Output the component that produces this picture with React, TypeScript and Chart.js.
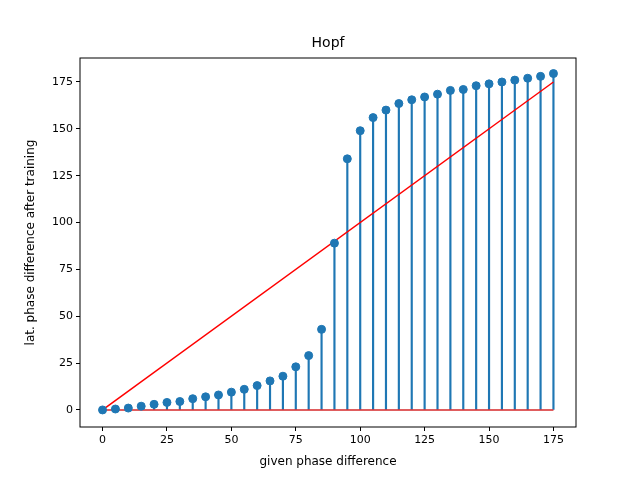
import { useEffect, useRef } from "react";
import { Chart, registerables } from "chart.js";

Chart.register(...registerables);

const phases = [0, 5, 10, 15, 20, 25, 30, 35, 40, 45, 50, 55, 60, 65, 70, 75, 80, 85,
  90, 95, 100, 105, 110, 115, 120, 125, 130, 135, 140, 145, 150, 155, 160, 165, 170, 175];
const latPhase = [0, 0.5, 1, 2, 3, 4, 4.5, 6, 7, 8, 9.5, 11, 13, 15.5, 18, 23, 29, 43,
  89, 134, 149, 156, 160, 163.5, 165.5, 167, 168.5, 170.5, 171, 173, 174, 175, 176, 177, 178, 179.5];
const xTicks = [0, 25, 50, 75, 100, 125, 150, 175];
const yTicks = [0, 25, 50, 75, 100, 125, 150, 175];

const frame = {
  id: "frame",
  afterDraw(chart: any) {
    const { ctx, chartArea: a } = chart;
    ctx.save();
    ctx.strokeStyle = "#000";
    ctx.lineWidth = 1;
    ctx.strokeRect(a.left, a.top, a.right - a.left, a.bottom - a.top);
    ctx.fillStyle = "#000";
    ctx.textAlign = "center";
    ctx.textBaseline = "middle";
    ctx.font = "14px 'DejaVu Sans'";
    ctx.fillText("Hopf", (a.left + a.right) / 2, 43);
    ctx.font = "12px 'DejaVu Sans'";
    ctx.fillText("given phase difference", (a.left + a.right) / 2, 462);
    ctx.translate(31, (a.top + a.bottom) / 2);
    ctx.rotate(-Math.PI / 2);
    ctx.fillText("lat. phase difference after training", 0, 0);
    ctx.restore();
  },
};

export default function App() {
  const ref = useRef<HTMLCanvasElement>(null);

  useEffect(() => {
    if (!ref.current) return;
    const font = { family: "'DejaVu Sans'", size: 11 };
    const chart = new Chart(ref.current, {
      type: "scatter",
      data: {
        datasets: [
          {
            type: "scatter",
            data: phases.map((x, i) => ({ x, y: latPhase[i] })),
            backgroundColor: "#1f77b4",
            borderColor: "#1f77b4",
            pointRadius: 4,
            order: 0,
          },
          {
            type: "line",
            data: [{ x: phases[0], y: 0 }, { x: phases[phases.length - 1], y: phases[phases.length - 1] }],
            borderColor: "red",
            borderWidth: 1.5,
            pointRadius: 0,
            order: 2,
          },
          {
            type: "bar",
            data: phases.map((x, i) => ({ x, y: [0, latPhase[i]] })) as any,
            backgroundColor: "#1f77b4",
            barThickness: 1.5,
            order: 3,
          } as any,
          {
            type: "line",
            data: [{ x: phases[0], y: 0 }, { x: phases[phases.length - 1], y: 0 }],
            borderColor: "#d62728",
            borderWidth: 1.5,
            pointRadius: 0,
            order: 1,
          },
        ],
      },
      options: {
        animation: false,
        responsive: false,
        layout: { padding: { top: 58, right: 64, left: 0, bottom: 0 } },
        plugins: { legend: { display: false }, tooltip: { enabled: false } },
        scales: {
          x: {
            type: "linear",
            offset: false,
            min: -8.75,
            max: 183.75,
            afterFit: (s: any) => { s.height = 53; },
            afterBuildTicks: (s: any) => { s.ticks = xTicks.map((v) => ({ value: v })); },
            grid: { drawOnChartArea: false, offset: false, color: "#000", tickLength: 4 },
            border: { display: false },
            ticks: { color: "#000", font },
          },
          y: {
            min: -9.1,
            max: 187.8,
            afterFit: (s: any) => { s.width = 80; },
            afterBuildTicks: (s: any) => { s.ticks = yTicks.map((v) => ({ value: v })); },
            grid: { drawOnChartArea: false, color: "#000", tickLength: 4 },
            border: { display: false },
            ticks: { color: "#000", font },
          },
        },
      },
      plugins: [frame],
    });
    return () => chart.destroy();
  }, []);

  return (
    <div style={{ position: "fixed", left: 0, top: 0, width: 640, height: 480, background: "#fff" }}>
      <canvas ref={ref} width={640} height={480} />
    </div>
  );
}
